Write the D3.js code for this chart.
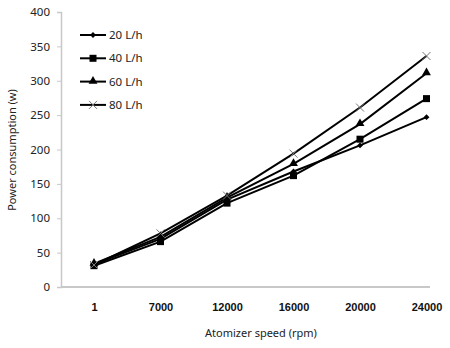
<!DOCTYPE html>
<html>
<head>
<meta charset="utf-8">
<script src="https://cdn.jsdelivr.net/npm/d3@7"></script>
<style>
  html, body { margin: 0; padding: 0; background: #fff; }
  svg { display: block; }
  text { font-family: "Noto Sans", "Open Sans", sans-serif; fill: #222; }
</style>
</head>
<body>
<svg id="chart" width="450" height="348"></svg>
<script>
// Atomizer speed categories (rpm)
const speeds = ["1", "7000", "12000", "16000", "20000", "24000"];
// Power consumption (w) per feed rate
const flow20 = [33, 70, 127, 168, 206, 247];
const flow40 = [31, 66, 122, 162, 215, 274];
const flow60 = [34, 73, 130, 179, 237, 311];
const flow80 = [32, 78, 133, 194, 261, 336];
const seriesNames = ["20 L/h", "40 L/h", "60 L/h", "80 L/h"];
const yTicks = [0, 50, 100, 150, 200, 250, 300, 350, 400];

const series = [
  { name: seriesNames[0], values: flow20, marker: "diamond" },
  { name: seriesNames[1], values: flow40, marker: "square" },
  { name: seriesNames[2], values: flow60, marker: "triangle" },
  { name: seriesNames[3], values: flow80, marker: "cross" }
];

const svg = d3.select("#chart");
const axisLeft = 61, axisRight = 430, plotTop = 12, plotBottom = 287;

const x = d3.scalePoint().domain(speeds).range([94, 426.5]);
const y = d3.scaleLinear().domain([0, 400]).range([plotBottom, plotTop]);

// Y axis
const yAxis = svg.append("g").attr("transform", `translate(${axisLeft},0)`)
  .call(d3.axisLeft(y).tickValues(yTicks).tickSize(4).tickPadding(7));
yAxis.select(".domain").attr("stroke", "#c8c8c8").attr("stroke-width", 1.5);
yAxis.selectAll(".tick line").attr("stroke", "#c8c8c8");
yAxis.selectAll(".tick text").style("font-size", "11.5px").style("fill", "#222");

// X axis baseline
svg.append("line")
  .attr("x1", axisLeft).attr("x2", axisRight)
  .attr("y1", plotBottom).attr("y2", plotBottom)
  .attr("stroke", "#c8c8c8").attr("stroke-width", 2);

// X category labels
const xAxis = svg.append("g").attr("transform", `translate(0,${plotBottom})`)
  .call(d3.axisBottom(x).tickSize(0).tickPadding(16));
xAxis.select(".domain").remove();
xAxis.selectAll(".tick text")
  .style("font-family", "'Liberation Sans', Arial, sans-serif")
  .style("font-weight", "bold").style("font-size", "11px").style("fill", "#111");

// Axis titles
svg.append("text")
  .attr("x", 261).attr("y", 337)
  .attr("text-anchor", "middle").style("font-size", "11px")
  .text("Atomizer speed (rpm)");
svg.append("text")
  .attr("transform", `translate(16,150) rotate(-90)`)
  .attr("text-anchor", "middle").style("font-size", "11px")
  .text("Power consumption (w)");

// Marker drawing
function drawMarker(g, type, cx, cy) {
  if (type === "diamond") {
    g.append("path").attr("d", d3.symbol(d3.symbolDiamond2 || d3.symbolDiamond, 22)())
      .attr("transform", `translate(${cx},${cy})`).attr("fill", "#000");
  } else if (type === "square") {
    g.append("rect").attr("x", cx - 3.5).attr("y", cy - 3.5)
      .attr("width", 7).attr("height", 7).attr("fill", "#000");
  } else if (type === "triangle") {
    g.append("path").attr("d", d3.symbol(d3.symbolTriangle, 34)())
      .attr("transform", `translate(${cx},${cy - 0.5})`).attr("fill", "#000");
  } else {
    g.append("path")
      .attr("d", `M${cx - 4},${cy - 4}L${cx + 4},${cy + 4}M${cx - 4},${cy + 4}L${cx + 4},${cy - 4}`)
      .attr("stroke", "#777").attr("stroke-width", 1).attr("fill", "none");
  }
}

const line = d3.line().x((d, i) => x(speeds[i])).y(d => y(d));
const plot = svg.append("g");
series.forEach(s => {
  plot.append("path").datum(s.values)
    .attr("d", line).attr("fill", "none")
    .attr("stroke", "#000").attr("stroke-width", 2);
});
series.forEach(s => {
  const g = plot.append("g");
  s.values.forEach((v, i) => drawMarker(g, s.marker, x(speeds[i]), y(v)));
});

// Legend
const legend = svg.append("g");
series.forEach((s, i) => {
  const ly = 35 + i * 23.3;
  const g = legend.append("g");
  g.append("line").attr("x1", 80).attr("x2", 106).attr("y1", ly).attr("y2", ly)
    .attr("stroke", "#000").attr("stroke-width", 2);
  drawMarker(g, s.marker, 93, ly);
  g.append("text").attr("x", 109).attr("y", ly).attr("dy", "0.35em")
    .style("font-size", "11.5px").text(s.name);
});
</script>
</body>
</html>
